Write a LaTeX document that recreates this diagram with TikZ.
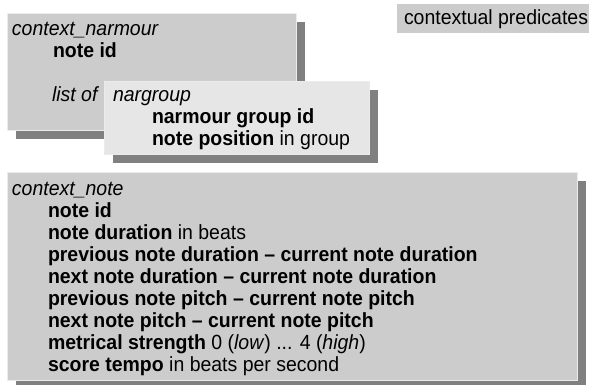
\documentclass[tikz,border=0pt]{standalone}
\usepackage{fontspec}
\setmainfont{Liberation Sans}[FakeStretch=0.95]
\usetikzlibrary{shadows}
\definecolor{boxgray}{HTML}{CCCCCC}
\definecolor{boxlight}{HTML}{E6E6E6}
\definecolor{shadowgray}{HTML}{808080}
\tikzset{
  panel/.style={rectangle, anchor=north west, inner sep=0pt, outer sep=0pt,
    draw=white!60!boxgray, line width=0.4pt,
    drop shadow={shadow xshift=9pt, shadow yshift=-9pt, fill=shadowgray, opacity=1}},
  txt/.style={anchor=base west, inner sep=0pt, outer sep=0pt, font=\fontsize{20.5}{22}\selectfont}
}
\begin{document}
\begin{tikzpicture}[x=1pt, y=-1pt]
\useasboundingbox (0,0) rectangle (589,385);
% label
\node[rectangle, anchor=north west, inner sep=0pt, fill=boxgray, minimum width=192pt, minimum height=29pt] (label) at (397,4) {};
\node[txt] (labeltxt) at (404,25) {contextual predicates};
% box 1
\node[panel, fill=boxgray, minimum width=289pt, minimum height=117pt] (narmour) at (7,13) {};
\node[txt] (t1) at (12,36) {\textit{context\_narmour}};
\node[txt] (t1a) at (53,58) {\textbf{note id}};
\node[txt] (t1b) at (52,102) {\textit{list of}};
% box 2
\node[panel, fill=boxlight, minimum width=265pt, minimum height=73pt] (nargroup) at (104,81) {};
\node[txt] (t2) at (113,102) {\textit{nargroup}};
\node[txt] (t2a) at (152,124) {\textbf{narmour group id}};
\node[txt] (t2b) at (152,146) {\textbf{note position} in group};
% box 3
\node[panel, fill=boxgray, minimum width=570pt, minimum height=208pt] (note) at (7,172) {};
\node[txt] (t3) at (12,195) {\textit{context\_note}};
\node[txt] (t3a) at (48,217) {\textbf{note id}};
\node[txt] (t3b) at (48,239) {\textbf{note duration} in beats};
\node[txt] (t3c) at (48,261) {\textbf{previous note duration -- current note duration}};
\node[txt] (t3d) at (48,283) {\textbf{next note duration -- current note duration}};
\node[txt] (t3e) at (48,305) {\textbf{previous note pitch -- current note pitch}};
\node[txt] (t3f) at (48,327) {\textbf{next note pitch -- current note pitch}};
\node[txt] (t3g) at (48,349) {\textbf{metrical strength} 0 (\textit{low}) ... 4 (\textit{high})};
\node[txt] (t3h) at (48,371) {\textbf{score tempo} in beats per second};
\end{tikzpicture}
\end{document}
